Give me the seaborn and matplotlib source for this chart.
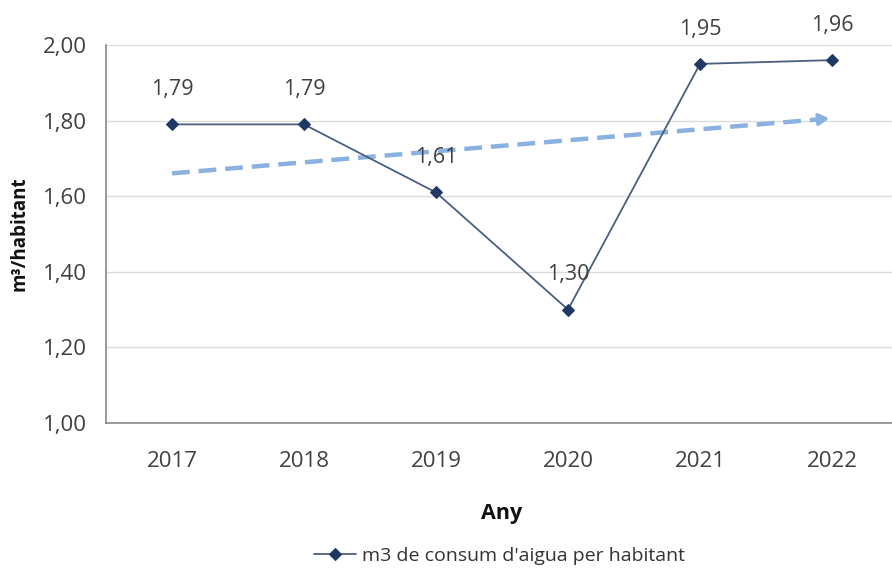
import matplotlib.pyplot as plt
import matplotlib.ticker as mticker
import numpy as np
import pandas as pd
import seaborn as sns

years = ['2017', '2018', '2019', '2020', '2021', '2022']
consum = [1.79, 1.79, 1.61, 1.30, 1.95, 1.96]
y_ticks = [1.00, 1.20, 1.40, 1.60, 1.80, 2.00]


def fmt(v):
    return f'{v:.2f}'.replace('.', ',')


def plotConsum():
    sns.set_style('white')
    plt.rcParams['font.family'] = ['Open Sans', 'DejaVu Sans']

    df = pd.DataFrame({'pos': range(len(years)), 'any': years, 'valor': consum})

    fig = plt.figure(figsize=(8.92, 5.71), dpi=100)
    ax = fig.add_axes([106 / 892, 1 - 423 / 571, 792 / 892, 378 / 571])

    # trend line (linear fit), dashed with arrow
    k, b = np.polyfit(df.pos, df.valor, 1)
    tx = np.array([0, len(years) - 1], dtype=float)
    ty = k * tx + b
    ax.plot([tx[0], tx[1] - 0.12], [ty[0], ty[1] - 0.12 * k], color='#8ab1e0',
            lw=3.2, ls=(0, (4, 2)), zorder=2, solid_capstyle='butt')
    ax.annotate('', xy=(tx[1], ty[1]), xytext=(tx[1] - 0.13, ty[1] - 0.13 * k),
                arrowprops=dict(arrowstyle='-|>,head_length=0.6,head_width=0.35',
                                color='#8ab1e0', lw=2.5), zorder=2)

    sns.lineplot(data=df, x='pos', y='valor', ax=ax, color='#4a5f80', lw=1.3,
                 marker='D', markersize=6.5, markerfacecolor='#1f3864',
                 markeredgecolor='#1f3864', zorder=3,
                 label="m3 de consum d'aigua per habitant", legend=False)

    for i, v in enumerate(consum):
        ax.annotate(fmt(v), (i, v), xytext=(0, 25), textcoords='offset points',
                    ha='center', va='center', fontsize=15.5, color='#404040')

    ax.set_xlim(-0.5, len(years) - 0.5)
    ax.set_ylim(1.0, 2.0)
    ax.set_yticks(y_ticks)
    ax.yaxis.set_major_formatter(mticker.FuncFormatter(lambda v, p: fmt(v)))
    ax.set_xticks(range(len(years)))
    ax.set_xticklabels(years)
    ax.set_xticks(np.arange(-0.5, len(years), 1), minor=True)
    ax.tick_params(axis='x', which='major', length=0, pad=20, labelsize=16, labelcolor='#404040')
    ax.tick_params(axis='x', which='minor', length=6, color='#888888', width=1)
    ax.tick_params(axis='y', length=7, color='#888888', width=1, pad=6.5,
                   labelsize=16, labelcolor='#404040')

    ax.grid(axis='y', color='#dcdcdc', lw=1)
    for s in ['top', 'right']:
        ax.spines[s].set_visible(False)
    for s in ['left', 'bottom']:
        ax.spines[s].set_color('#888888')
        ax.spines[s].set_linewidth(1.2)

    ax.set_xlabel('Any', fontsize=15.5, fontweight='bold', color='#111111')
    ax.xaxis.set_label_coords(0.5, -0.212)
    ax.set_ylabel('m³/habitant', fontsize=13.5, fontweight='bold', color='#111111')
    ax.yaxis.set_label_coords(-0.096, 0.5)

    handles, labels = ax.get_legend_handles_labels()
    fig.legend(handles, labels, loc='center', bbox_to_anchor=(0.56, 0.027),
               frameon=False, fontsize=14, handlelength=2.2, handletextpad=0.3,
               labelcolor='#333333')

    plt.savefig('out.png', dpi=100)
    plt.clf()


def main():
    plotConsum()


if __name__ == "__main__":
    main()
